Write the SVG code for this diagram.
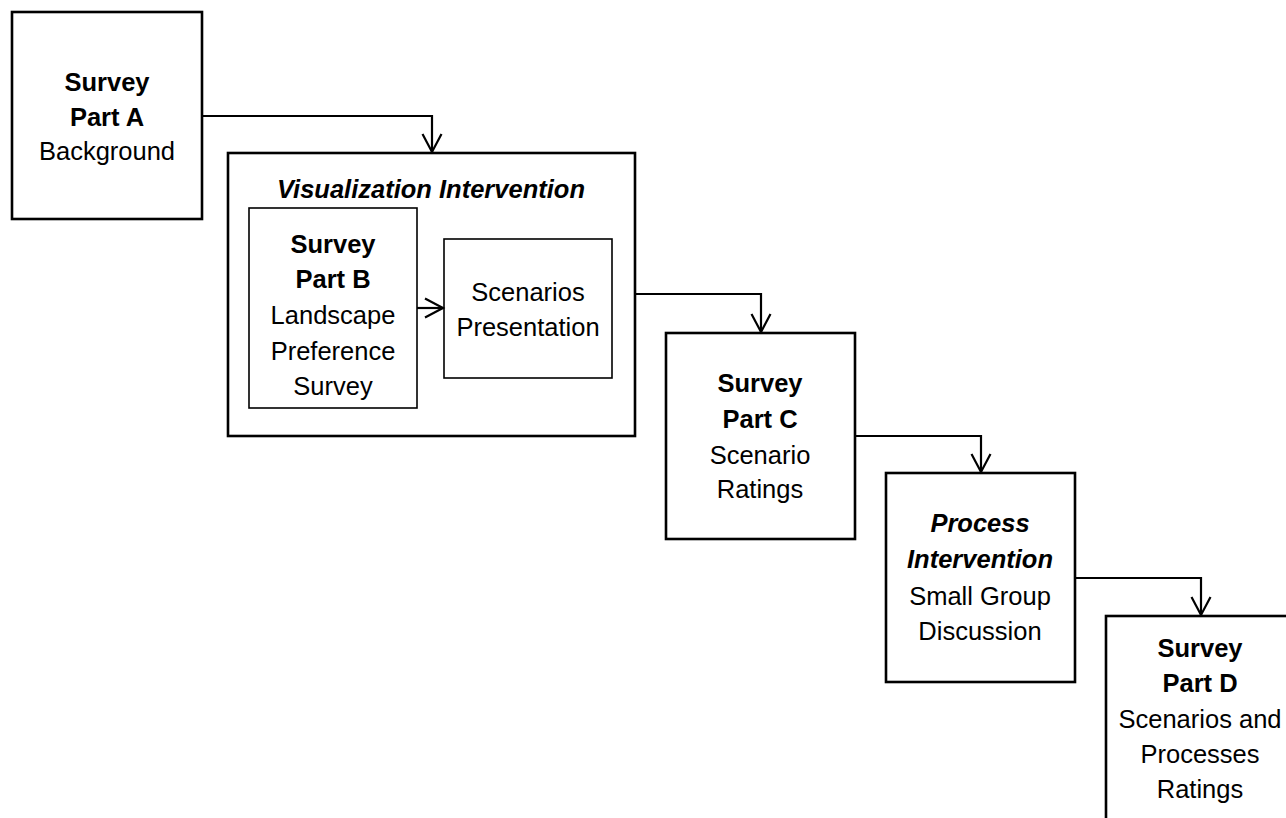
<svg xmlns="http://www.w3.org/2000/svg" width="1286" height="818" viewBox="0 0 1286 818">
<style>
  .box { fill: #ffffff; stroke: #000000; stroke-width: 2.6; }
  .inner { fill: #ffffff; stroke: #000000; stroke-width: 1.6; }
  .conn { fill: none; stroke: #000000; stroke-width: 2.2; marker-end: url(#arrow); }
  text { font-family: "Liberation Sans", Arial, sans-serif; font-size: 25.5px; fill: #000000; text-anchor: middle; }
  .b { font-weight: bold; }
  .bi { font-weight: bold; font-style: italic; }
</style>
<defs>
  <marker id="arrow" markerUnits="userSpaceOnUse" markerWidth="24" markerHeight="24" viewBox="0 0 24 24" refX="20" refY="12" orient="auto">
    <path d="M2,2.5 L20,12 L2,21.5" fill="none" stroke="#000000" stroke-width="2.2"/>
  </marker>
</defs>
<rect width="1286" height="818" fill="#ffffff"/>

<g id="survey-a">
  <rect class="box" x="12" y="12" width="190" height="207"/>
  <text x="107" y="91" class="b">Survey</text>
  <text x="107" y="126" class="b">Part A</text>
  <text x="107" y="160">Background</text>
</g>

<g id="visualization-intervention">
  <rect class="box" x="228" y="153" width="407" height="283"/>
  <text x="431" y="198" class="bi">Visualization Intervention</text>
</g>

<g id="survey-b">
  <rect class="inner" x="249" y="208" width="168" height="200"/>
  <text x="333" y="253" class="b">Survey</text>
  <text x="333" y="288" class="b">Part B</text>
  <text x="333" y="324">Landscape</text>
  <text x="333" y="360">Preference</text>
  <text x="333" y="395">Survey</text>
</g>

<g id="scenarios-presentation">
  <rect class="inner" x="444" y="239" width="168" height="139"/>
  <text x="528" y="301">Scenarios</text>
  <text x="528" y="336">Presentation</text>
</g>

<g id="survey-c">
  <rect class="box" x="666" y="333" width="189" height="206"/>
  <text x="760" y="392" class="b">Survey</text>
  <text x="760" y="428" class="b">Part C</text>
  <text x="760" y="464">Scenario</text>
  <text x="760" y="498">Ratings</text>
</g>

<g id="process-intervention">
  <rect class="box" x="886" y="473" width="189" height="209"/>
  <text x="980" y="532" class="bi">Process</text>
  <text x="980" y="568" class="bi">Intervention</text>
  <text x="980" y="605">Small Group</text>
  <text x="980" y="640">Discussion</text>
</g>

<g id="survey-d">
  <rect class="box" x="1106" y="616" width="200" height="220"/>
  <text x="1200" y="657" class="b">Survey</text>
  <text x="1200" y="692" class="b">Part D</text>
  <text x="1200" y="728">Scenarios and</text>
  <text x="1200" y="763">Processes</text>
  <text x="1200" y="798">Ratings</text>
</g>

<g id="connectors">
  <path class="conn" d="M202,116 H432 V152"/>
  <path class="conn" d="M417,308 H443"/>
  <path class="conn" d="M635,294 H761 V332"/>
  <path class="conn" d="M855,436 H981 V472"/>
  <path class="conn" d="M1075,578 H1201 V615"/>
</g>
</svg>
